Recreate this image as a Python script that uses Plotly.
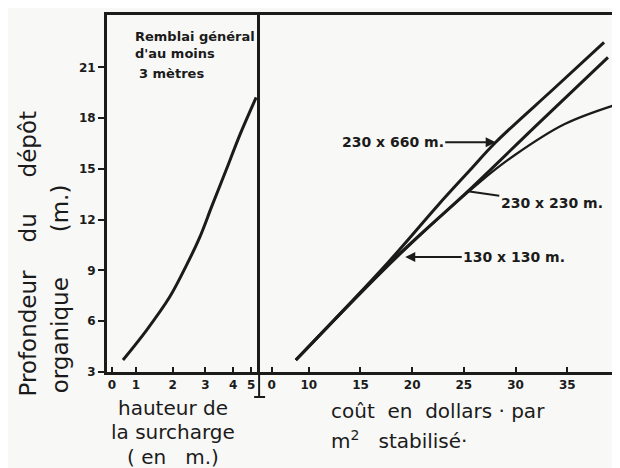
import plotly.graph_objects as go

# left panel: hauteur de la surcharge vs profondeur
SURCHARGE_X = [0.62, 1.32, 2.0, 2.5, 2.88, 3.26, 3.68, 4.06, 4.56]
SURCHARGE_Y = [3.71, 5.48, 7.43, 9.32, 10.91, 12.86, 14.98, 16.93, 19.23]

# right panel: cout en dollars par m2 stabilise
COUT_660_X = [8.75, 17.69, 22.5, 25.58, 28.08, 33.75, 38.56]
COUT_660_Y = [3.71, 9.49, 12.86, 14.92, 16.58, 19.77, 22.48]
COUT_230_X = [8.75, 18.65, 25.38, 32.12, 38.94]
COUT_230_Y = [3.71, 9.91, 13.68, 17.64, 21.6]
COUT_130_X = [8.75, 18.65, 26.63, 29.9, 34.71, 39.52]
COUT_130_Y = [3.71, 9.85, 14.27, 15.81, 17.64, 18.76]

Y_TICKS = [3, 6, 9, 12, 15, 18, 21]
LEFT_TICK_POS = [0.29, 1.0, 2.09, 3.06, 3.88, 4.41]
LEFT_TICK_TEXT = ["0", "1", "2", "3", "4", "5"]
RIGHT_TICK_POS = [6.4, 10, 15, 20, 25, 30, 35]
RIGHT_TICK_TEXT = ["0", "10", "15", "20", "25", "30", "35"]

INK = "#1b1b1b"
PAPER = "#f8f8f6"
FONT = "DejaVu Sans"

# the page body adds an 8px margin, so the figure is drawn 8px smaller
OFF = 8
W, H = 620 - OFF, 468 - OFF
ML, MR, MT, MB = 107 - OFF, 2, 15 - OFF, 96
PW, PH = W - ML - MR, H - MT - MB


def px(x):
    return (x - OFF - ML) / PW


def py(y):
    return (H - MB - (y - OFF)) / PH


split = px(261)

fig = go.Figure()

fig.add_trace(go.Scatter(x=SURCHARGE_X, y=SURCHARGE_Y, mode="lines", line=dict(color=INK, width=3, shape="spline"),
                         xaxis="x", yaxis="y", showlegend=False))
fig.add_trace(go.Scatter(x=COUT_660_X, y=COUT_660_Y, mode="lines", line=dict(color=INK, width=3, shape="spline"),
                         xaxis="x2", yaxis="y2", showlegend=False))
fig.add_trace(go.Scatter(x=COUT_230_X, y=COUT_230_Y, mode="lines", line=dict(color=INK, width=3, shape="spline"),
                         xaxis="x2", yaxis="y2", showlegend=False))
fig.add_trace(go.Scatter(x=COUT_130_X, y=COUT_130_Y, mode="lines", line=dict(color=INK, width=2.2, shape="spline"),
                         xaxis="x2", yaxis="y2", showlegend=False))

axis_style = dict(showline=True, linewidth=3, linecolor=INK, showgrid=False, zeroline=False,
                  tickcolor=INK, tickwidth=2, tickfont=dict(family=FONT, size=12, color=INK, weight="bold"))

fig.update_layout(
    width=W, height=H,
    margin=dict(l=ML, r=MR, t=MT, b=MB),
    paper_bgcolor=PAPER, plot_bgcolor=PAPER,
    xaxis=dict(domain=[0, split], range=[0.147, 4.676], anchor="y", tickmode="array", mirror=True,
               tickvals=LEFT_TICK_POS, ticktext=LEFT_TICK_TEXT, ticks="inside", ticklen=5, **axis_style),
    yaxis=dict(domain=[0, 1], range=[3, 24.1], anchor="x", tickmode="array", tickvals=Y_TICKS,
               ticks="outside", ticklen=6, mirror=False, **axis_style),
    xaxis2=dict(domain=[split, 1], range=[5.29, 39.62], anchor="y2", tickmode="array", mirror=True,
                tickvals=RIGHT_TICK_POS, ticktext=RIGHT_TICK_TEXT, ticks="inside", ticklen=5, **axis_style),
    yaxis2=dict(domain=[0, 1], range=[3, 24.1], anchor="x2", showticklabels=False, ticks="", mirror=True,
                **axis_style),
)

big = dict(family=FONT, size=20, color=INK)
ytitle = dict(family=FONT, size=23, color=INK)
label = dict(family=FONT, size=14, color=INK, weight="bold")
note = dict(family=FONT, size=13, color=INK, weight="bold")

ann = []
# y title, rotated words
for text, x, y in [("Profondeur", 28, 333), ("du", 28, 228), ("dépôt", 28, 144),
                   ("organique", 60, 335), ("(m.)", 60, 208)]:
    ann.append(dict(text=text, xref="paper", yref="paper", x=px(x), y=py(y), textangle=-90,
                    showarrow=False, font=ytitle, xanchor="center", yanchor="middle"))
# left x title
for text, y in [("hauteur de", 408), ("la surcharge", 432), ("(\u00a0en\u00a0\u00a0\u00a0m.)", 457)]:
    ann.append(dict(text=text, xref="paper", yref="paper", x=px(173), y=py(y), showarrow=False,
                    font=big, xanchor="center", yanchor="middle"))
# right x title
for text, y in [("coût\u00a0\u00a0en\u00a0\u00a0dollars\u00a0·\u00a0par", 411),
                ("m<sup>2</sup>\u00a0\u00a0\u00a0stabilisé·", 440)]:
    ann.append(dict(text=text, xref="paper", yref="paper", x=px(330), y=py(y), showarrow=False,
                    font=big, xanchor="left", yanchor="middle"))
# note in left panel
for text, x, y in [("Remblai général", 133, 36), ("d'au moins", 133, 54), ("3 mètres", 137, 73)]:
    ann.append(dict(text=text, xref="paper", yref="paper", x=px(x), y=py(y), showarrow=False,
                    font=note, xanchor="left", yanchor="middle"))
# series labels
ann.append(dict(text="230 x 660 m.", x=COUT_660_X[4], y=COUT_660_Y[4], xref="x2", yref="y2",
                ax=-103, ay=0, showarrow=True, arrowhead=2, arrowsize=1, arrowwidth=2, arrowcolor=INK,
                font=label))
ann.append(dict(text="230 x 230 m.", x=COUT_230_X[2], y=COUT_230_Y[2], xref="x2", yref="y2",
                ax=84, ay=12, showarrow=True, arrowhead=0, arrowwidth=2, arrowcolor=INK,
                font=label))
ann.append(dict(text="130 x 130 m.", x=19.33, y=9.79, xref="x2", yref="y2",
                ax=109, ay=0, showarrow=True, arrowhead=2, arrowsize=1, arrowwidth=2, arrowcolor=INK,
                font=label))
fig.update_layout(annotations=ann)

# small foot mark under the shared border
fig.add_shape(type="line", xref="paper", yref="paper", x0=px(260), x1=px(260), y0=py(372), y1=py(397),
              line=dict(color=INK, width=2))
fig.add_shape(type="line", xref="paper", yref="paper", x0=px(255), x1=px(266), y0=py(397), y1=py(397),
              line=dict(color=INK, width=2))

fig.write_html("out.html")
